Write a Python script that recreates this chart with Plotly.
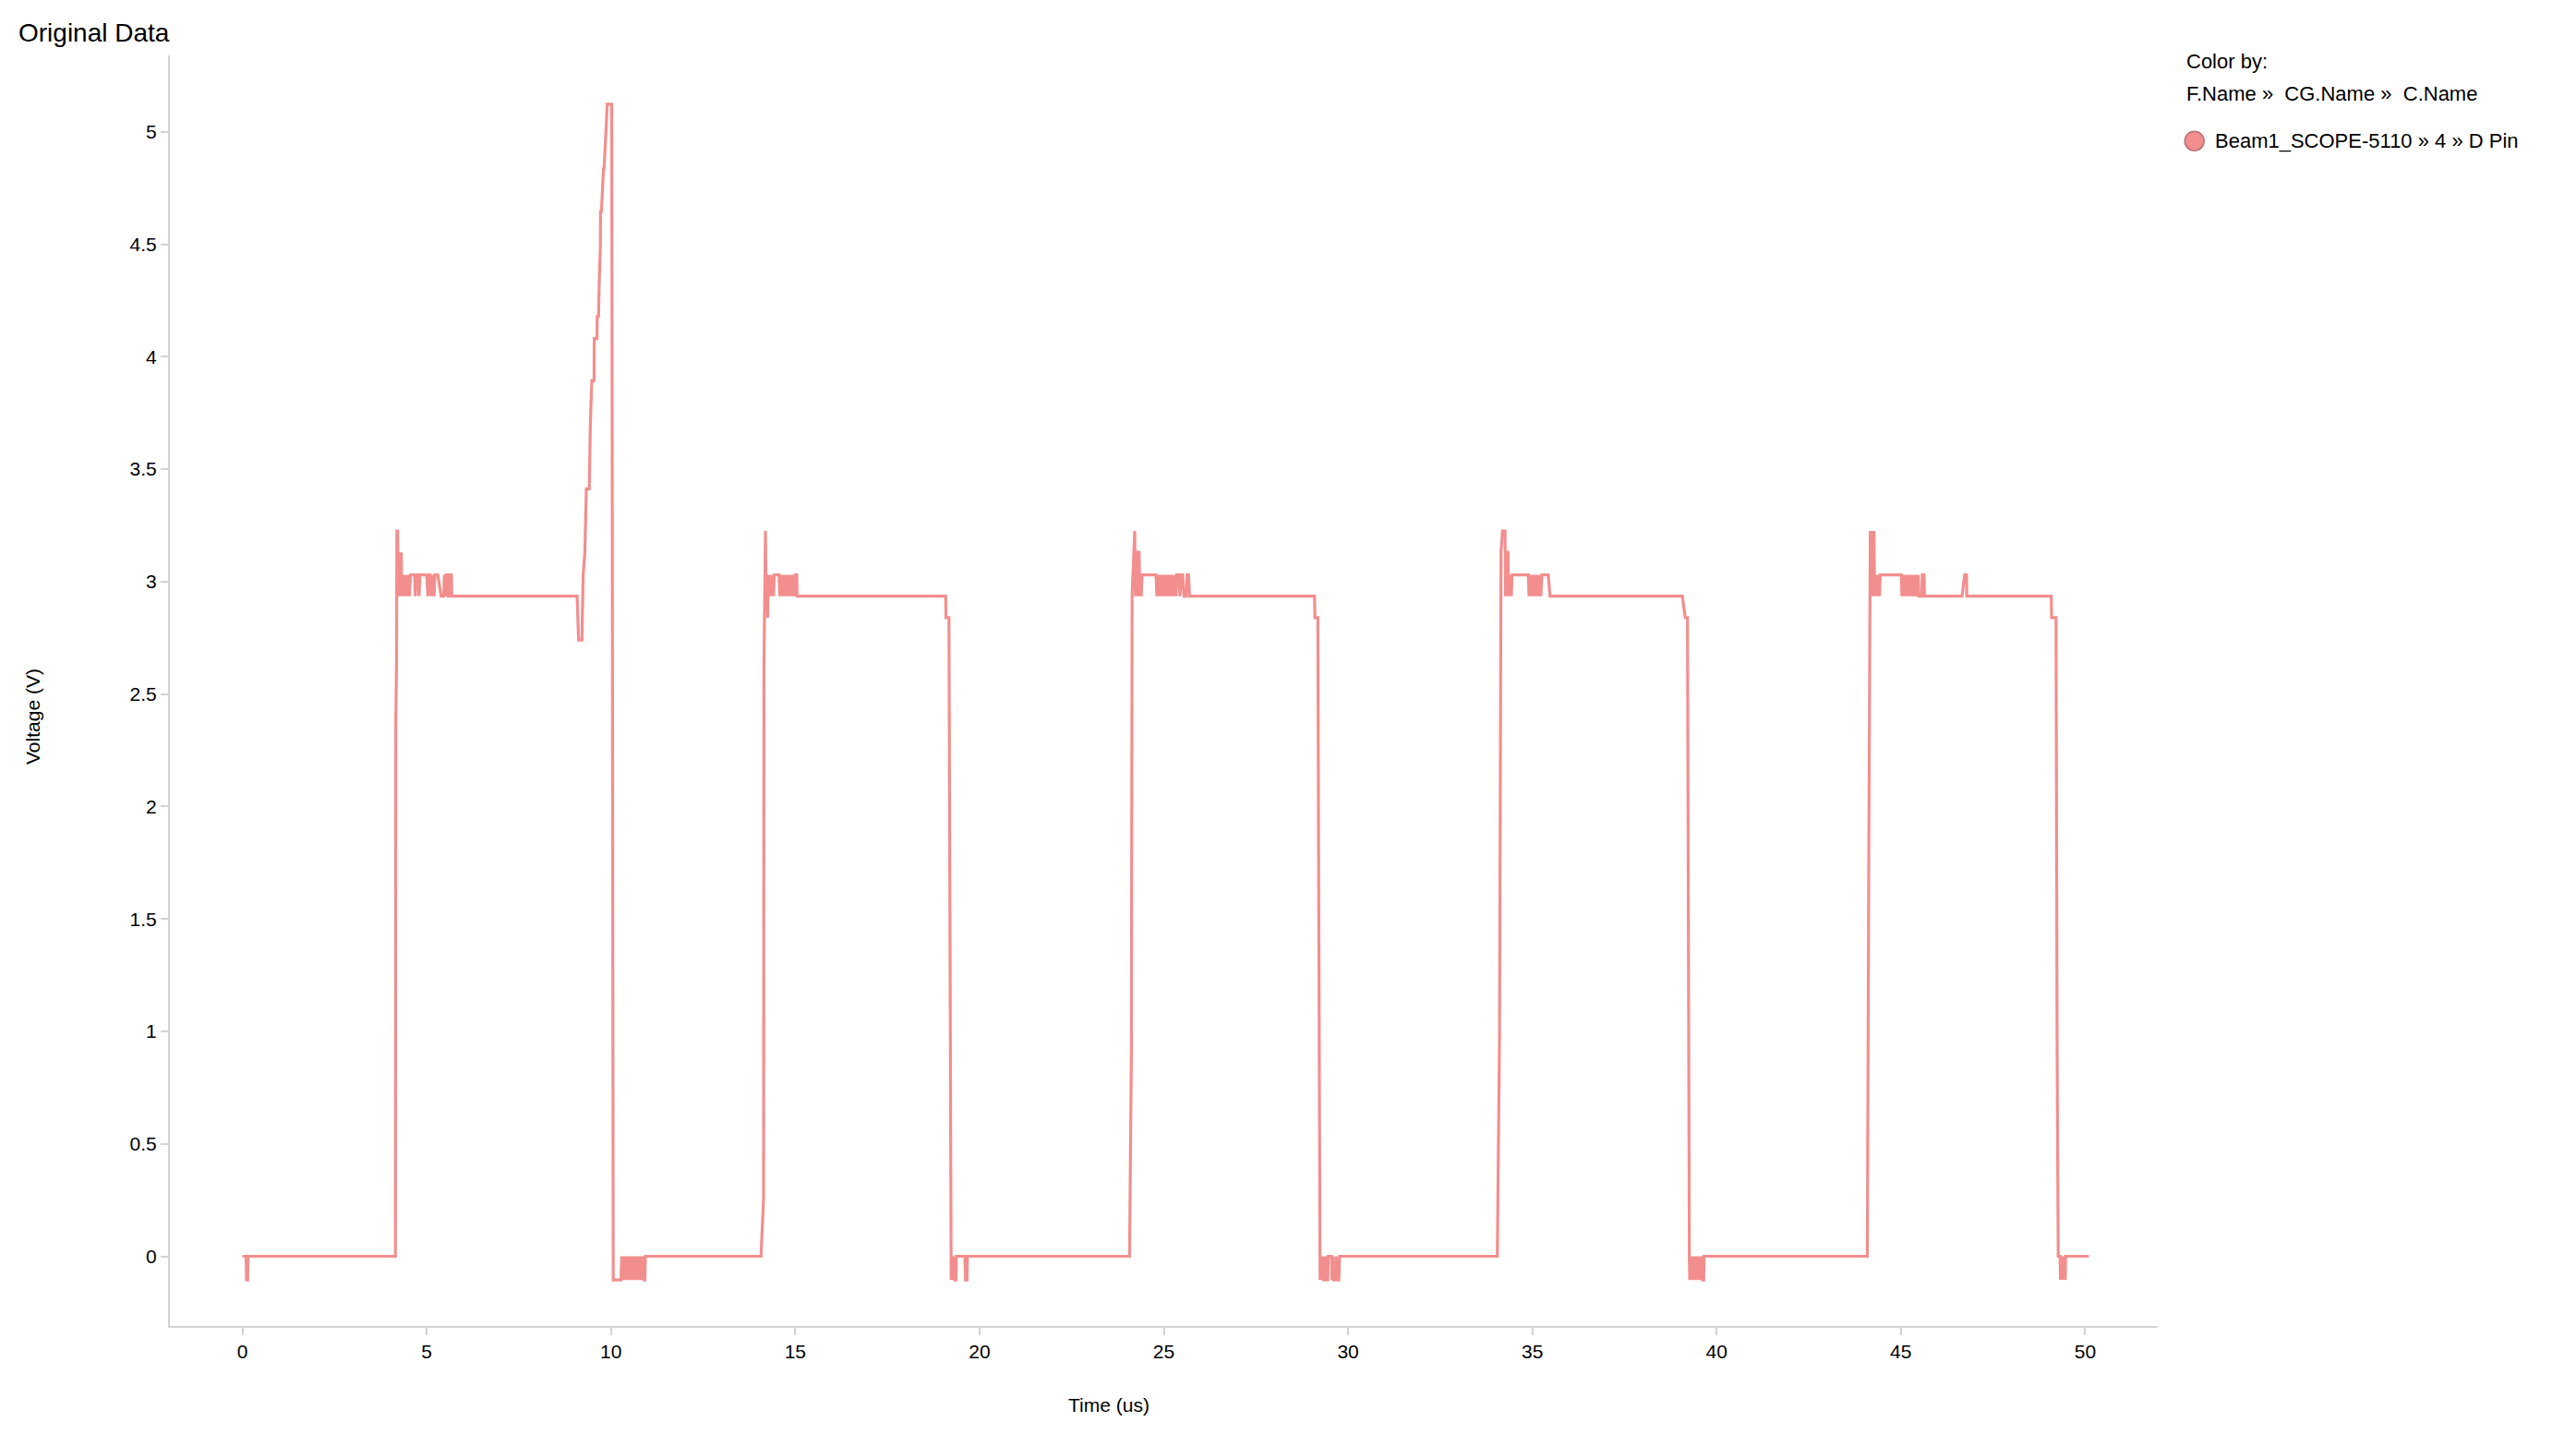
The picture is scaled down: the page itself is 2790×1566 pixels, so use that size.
import plotly.graph_objects as go

# ---------------- data: (time in us, voltage in V) ----------------
cycle1 = [
    (0.00, 0.0), (0.10, 0.0), (0.11, -0.105), (0.14, -0.105), (0.15, 0.0),
    (4.15, 0.0), (4.16, 2.37), (4.18, 2.65), (4.19, 3.225), (4.21, 3.225), (4.23, 2.935),
    (4.25, 3.13), (4.27, 2.935), (4.29, 3.13), (4.31, 3.13), (4.32, 2.935), (4.34, 3.03),
    (4.36, 2.935), (4.38, 3.03), (4.40, 2.935), (4.42, 3.03), (4.44, 2.935), (4.46, 3.03),
    (4.48, 2.935), (4.50, 3.03), (4.53, 2.935), (4.56, 3.03), (4.67, 3.03), (4.69, 2.935),
    (4.72, 3.03), (4.76, 3.03), (4.79, 2.935), (4.82, 3.03), (5.00, 3.03), (5.03, 2.935),
    (5.05, 3.03), (5.09, 3.03), (5.12, 2.935), (5.15, 3.03), (5.17, 3.03), (5.20, 2.935),
    (5.22, 3.03), (5.30, 3.03), (5.39, 2.935), (5.46, 2.935), (5.48, 3.03), (5.50, 2.935),
    (5.52, 3.03), (5.56, 3.03), (5.58, 2.935), (5.62, 2.935), (5.64, 3.03), (5.67, 3.03),
    (5.68, 2.935),
    (9.08, 2.935), (9.09, 2.84), (9.11, 2.84), (9.12, 2.74), (9.21, 2.74), (9.22, 2.84),
    (9.24, 2.84), (9.245, 3.033), (9.29, 3.128), (9.33, 3.413), (9.41, 3.413), (9.44, 3.707),
    (9.48, 3.894), (9.54, 3.894), (9.545, 4.081), (9.62, 4.081), (9.625, 4.179), (9.66, 4.179),
    (9.685, 4.357), (9.71, 4.473), (9.715, 4.646), (9.74, 4.646), (9.795, 4.835), (9.81, 4.835),
    (9.87, 5.025), (9.895, 5.123), (10.02, 5.123), (10.05, 0.0),
    (10.06, -0.105), (10.27, -0.105), (10.29, 0.0), (10.31, -0.105), (10.34, 0.0),
    (10.37, -0.105), (10.40, 0.0), (10.43, -0.105), (10.46, 0.0), (10.49, -0.105),
    (10.52, 0.0), (10.55, -0.105), (10.58, 0.0), (10.61, -0.105), (10.64, 0.0),
    (10.67, -0.105), (10.70, 0.0), (10.73, -0.105), (10.76, 0.0), (10.79, -0.105),
    (10.82, 0.0), (10.85, -0.105), (10.88, 0.0), (10.90, -0.105), (10.92, -0.105), (10.93, 0.0),
]

cycle2 = [
    (14.07, 0.0), (14.14, 0.26), (14.15, 2.63), (14.19, 3.225), (14.21, 2.935), (14.23, 3.03),
    (14.25, 2.84), (14.27, 3.03), (14.29, 2.935), (14.31, 3.03), (14.33, 2.935), (14.35, 3.03),
    (14.37, 2.935), (14.39, 3.03), (14.41, 2.935), (14.43, 3.03), (14.56, 3.03), (14.58, 2.935),
    (14.60, 3.03), (14.62, 2.935), (14.64, 3.03), (14.66, 2.935), (14.68, 3.03), (14.70, 2.935),
    (14.72, 3.03), (14.74, 2.935), (14.76, 3.03), (14.78, 2.935), (14.80, 3.03), (14.82, 2.935),
    (14.84, 3.03), (14.86, 2.935), (14.88, 3.03), (14.90, 2.935), (14.92, 3.03), (14.94, 2.935),
    (14.96, 3.03), (14.98, 2.935), (15.00, 3.03), (15.04, 3.03), (15.05, 2.935),
    (19.08, 2.935), (19.09, 2.84), (19.17, 2.84), (19.19, 1.8), (19.21, 0.0), (19.23, -0.105),
    (19.26, 0.0), (19.28, -0.105), (19.31, 0.0), (19.33, -0.105), (19.36, -0.105), (19.37, 0.0),
    (19.60, 0.0), (19.62, -0.105), (19.66, -0.105), (19.67, 0.0),
]

cycle3 = [
    (24.07, 0.0), (24.12, 0.9), (24.14, 2.94), (24.21, 3.225), (24.23, 2.935), (24.25, 3.13),
    (24.27, 2.935), (24.29, 3.13), (24.33, 3.13), (24.35, 2.935), (24.37, 3.03), (24.39, 2.935),
    (24.41, 3.03), (24.79, 3.03), (24.81, 2.935), (24.83, 3.03), (24.85, 2.935), (24.87, 3.03),
    (24.89, 2.935), (24.91, 3.03), (24.93, 2.935), (24.95, 3.03), (24.97, 2.935), (24.99, 3.03),
    (25.01, 2.935), (25.03, 3.03), (25.05, 2.935), (25.07, 3.03), (25.09, 2.935), (25.11, 3.03),
    (25.13, 2.935), (25.15, 3.03), (25.17, 2.935), (25.19, 3.03), (25.21, 2.935), (25.23, 3.03),
    (25.25, 2.935), (25.27, 3.03), (25.29, 2.935), (25.31, 3.03), (25.33, 2.935), (25.35, 3.03),
    (25.40, 3.03), (25.44, 2.935), (25.48, 3.03), (25.51, 3.03), (25.55, 2.935), (25.61, 2.935),
    (25.63, 3.03), (25.67, 3.03), (25.70, 2.935),
    (29.09, 2.935), (29.10, 2.84), (29.18, 2.84), (29.20, 1.8), (29.22, 0.0), (29.24, -0.105),
    (29.27, 0.0), (29.29, -0.105), (29.32, 0.0), (29.34, -0.105), (29.38, -0.105), (29.40, 0.0),
    (29.42, -0.105), (29.45, -0.105), (29.46, 0.0), (29.55, 0.0), (29.56, -0.105), (29.59, 0.0),
    (29.61, -0.105), (29.66, -0.105), (29.68, 0.0), (29.70, -0.105), (29.75, -0.105), (29.77, 0.0),
]

cycle4 = [
    (34.05, 0.0), (34.11, 1.0), (34.15, 3.13), (34.19, 3.225), (34.26, 3.225), (34.27, 2.935),
    (34.28, 3.13), (34.34, 3.13), (34.35, 2.935), (34.37, 3.03), (34.39, 2.935), (34.41, 3.03),
    (34.43, 2.935), (34.45, 3.03), (34.89, 3.03), (34.91, 2.935), (34.93, 3.03), (34.95, 2.935),
    (34.97, 3.03), (34.99, 2.935), (35.01, 3.03), (35.03, 2.935), (35.05, 3.03), (35.07, 2.935),
    (35.09, 3.03), (35.11, 2.935), (35.13, 3.03), (35.15, 2.935), (35.17, 3.03), (35.19, 2.935),
    (35.21, 3.03), (35.23, 2.935), (35.26, 3.03), (35.43, 3.03), (35.48, 2.935),
    (39.07, 2.935), (39.15, 2.84), (39.21, 2.84), (39.23, 1.0), (39.26, 0.0), (39.27, -0.105),
    (39.30, 0.0), (39.32, -0.105), (39.35, 0.0), (39.37, -0.105), (39.40, 0.0), (39.42, -0.105),
    (39.45, 0.0), (39.47, -0.105), (39.50, 0.0), (39.52, -0.105), (39.55, 0.0), (39.57, -0.105),
    (39.60, 0.0), (39.62, -0.105), (39.65, -0.105), (39.66, 0.0),
]

cycle5 = [
    (44.09, 0.0), (44.13, 1.8), (44.15, 2.35), (44.17, 3.225), (44.19, 2.935), (44.21, 3.225),
    (44.23, 2.935), (44.25, 3.225), (44.27, 3.225), (44.28, 3.03), (44.30, 2.935), (44.32, 3.03),
    (44.34, 2.935), (44.36, 3.03), (44.38, 2.935), (44.40, 3.03), (44.42, 2.935), (44.44, 3.03),
    (45.01, 3.03), (45.03, 2.935), (45.05, 3.03), (45.07, 2.935), (45.09, 3.03), (45.11, 2.935),
    (45.13, 3.03), (45.15, 2.935), (45.17, 3.03), (45.19, 2.935), (45.21, 3.03), (45.23, 2.935),
    (45.25, 3.03), (45.27, 2.935), (45.29, 3.03), (45.31, 2.935), (45.33, 3.03), (45.35, 2.935),
    (45.37, 3.03), (45.39, 2.935), (45.41, 3.03), (45.43, 2.935), (45.45, 3.03), (45.47, 3.03),
    (45.49, 2.935), (45.57, 2.935), (45.58, 3.03), (45.63, 3.03), (45.64, 2.935),
    (46.66, 2.935), (46.73, 3.03), (46.78, 3.03), (46.79, 2.935),
    (49.08, 2.935), (49.09, 2.84), (49.21, 2.84), (49.24, 0.9), (49.27, 0.0), (49.32, 0.0),
    (49.33, -0.105), (49.35, 0.0), (49.37, -0.105), (49.39, 0.0), (49.41, -0.105), (49.43, 0.0),
    (49.45, -0.105), (49.46, -0.105), (49.47, 0.0), (50.10, 0.0),
]

x_ticks = [0, 5, 10, 15, 20, 25, 30, 35, 40, 45, 50]
y_ticks = [0, 0.5, 1, 1.5, 2, 2.5, 3, 3.5, 4, 4.5, 5]
y_tick_text = ["0", "0.5", "1", "1.5", "2", "2.5", "3", "3.5", "4", "4.5", "5"]
series_name = "Beam1_SCOPE-5110 » 4 » D Pin"

# ---------------- figure ----------------
points = cycle1 + cycle2 + cycle3 + cycle4 + cycle5
time_us = [p[0] for p in points]
voltage = [p[1] for p in points]

PAGE_W, PAGE_H = 2790, 1566
OFF = 8  # default body margin of the html page
W, H = PAGE_W - 2 * OFF, PAGE_H - 2 * OFF

# plot area in page pixels
PX_LEFT, PX_RIGHT, PX_TOP, PX_BOTTOM = 184, 2337, 60, 1436
L = PX_LEFT - OFF
T = PX_TOP - OFF
R = W - (PX_RIGHT - OFF)
B = H - (PX_BOTTOM - OFF)
plot_w = PX_RIGHT - PX_LEFT
plot_h = PX_BOTTOM - PX_TOP

LINE_COLOR = "#F38E8E"
FONT = "Liberation Sans, Arial, sans-serif"
AX = "#d3d3d3"

fig = go.Figure()
fig.add_trace(go.Scatter(
    x=time_us, y=voltage, mode="lines", name=series_name,
    line=dict(color=LINE_COLOR, width=3.2), showlegend=False,
))


def px_x(px):
    """page pixel x -> paper coordinate"""
    return (px - PX_LEFT) / plot_w


def px_y(py):
    """page pixel y -> paper coordinate"""
    return (PX_BOTTOM - py) / plot_h


fig.update_layout(
    width=W, height=H, autosize=False,
    paper_bgcolor="white", plot_bgcolor="white",
    margin=dict(l=L, r=R, t=T, b=B, pad=0),
    font=dict(family=FONT, color="#000000", size=21),
    title=dict(text="Original Data", font=dict(size=28, color="#000000", family=FONT),
               xref="container", x=(20 - OFF) / W, xanchor="left",
               yref="container", y=1 - (35 - OFF) / H, yanchor="middle"),
    xaxis=dict(range=[-1.97, 51.97], tickvals=x_ticks, ticktext=[str(v) for v in x_ticks],
               showgrid=False, zeroline=False, showline=True, linecolor=AX, linewidth=2,
               ticks="outside", ticklen=8, tickwidth=2, tickcolor=AX,
               tickfont=dict(size=21, color="#000000", family=FONT)),
    yaxis=dict(range=[-0.31, 5.34], tickvals=y_ticks, ticktext=y_tick_text,
               showgrid=False, zeroline=False, showline=True, linecolor=AX, linewidth=2,
               ticks="outside", ticklen=8, tickwidth=2, tickcolor=AX,
               tickfont=dict(size=21, color="#000000", family=FONT)),
)

annotations = [
    dict(text="Time (us)", x=px_x(1201), y=px_y(1521), xref="paper", yref="paper",
         xanchor="center", yanchor="middle", showarrow=False,
         font=dict(size=21, color="#000000", family=FONT)),
    dict(text="Voltage (V)", x=px_x(35), y=px_y(776), xref="paper", yref="paper",
         xanchor="center", yanchor="middle", textangle=-90, showarrow=False,
         font=dict(size=21, color="#000000", family=FONT)),
    dict(text="Color by:", x=px_x(2366), y=px_y(67), xref="paper", yref="paper",
         xanchor="left", yanchor="middle", showarrow=False,
         font=dict(size=22, color="#000000", family=FONT)),
    dict(text="F.Name »  CG.Name »  C.Name", x=px_x(2366), y=px_y(101), xref="paper", yref="paper",
         xanchor="left", yanchor="middle", showarrow=False,
         font=dict(size=22, color="#000000", family=FONT)),
    dict(text=series_name, x=px_x(2397), y=px_y(153), xref="paper", yref="paper",
         xanchor="left", yanchor="middle", showarrow=False,
         font=dict(size=22, color="#000000", family=FONT)),
]
fig.update_layout(annotations=annotations)

r = 10.5
cx, cy = 2376.7, 152.7
fig.add_shape(type="circle", xref="paper", yref="paper",
              x0=px_x(cx - r), x1=px_x(cx + r), y0=px_y(cy + r), y1=px_y(cy - r),
              fillcolor="#F28E8E", line=dict(color="#B87272", width=1.5))

fig.write_html("out.html")
